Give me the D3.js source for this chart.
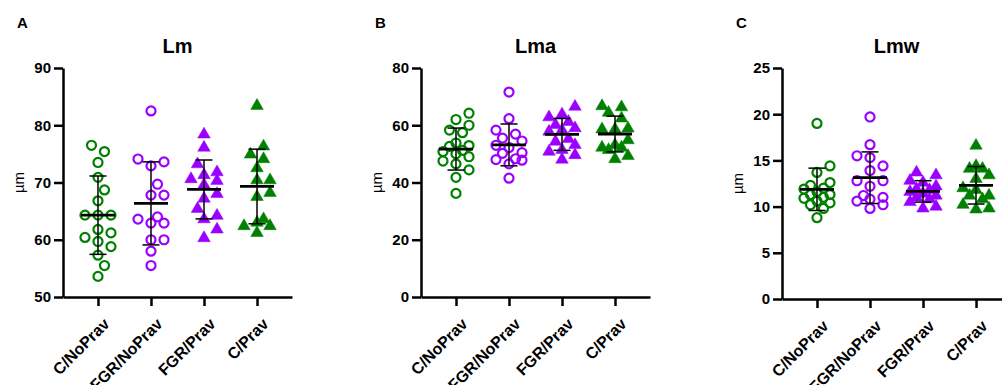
<!DOCTYPE html>
<html>
<head>
<meta charset="utf-8">
<script src="https://cdn.jsdelivr.net/npm/d3@7"></script>
<style>
  body { margin: 0; background: #fff; }
  svg { display: block; font-family: Arial, "Liberation Sans", sans-serif; }
</style>
</head>
<body>
<svg id="chart"></svg>
<script>
const W = 1002, H = 385;

// groups on the x axis
const groups = ["C/NoPrav", "FGR/NoPrav", "FGR/Prav", "C/Prav"];

// Lm (µm)
const lmCNoPrav = [76.5, 75.4, 73.5, 70.9, 68.7, 66.8, 64.3, 64.3, 64.3, 61.8, 61.2, 60.4, 59.7, 58.8, 57.3, 55.5, 53.6];
const lmFgrNoPrav = [82.5, 74.1, 73.6, 72.9, 69.7, 67.8, 67.8, 64.0, 63.6, 62.9, 62.9, 60.0, 60.0, 58.0, 55.5];
const lmFgrPrav = [78.4, 76.1, 73.2, 71.8, 71.3, 70.6, 70.3, 69.6, 68.0, 67.2, 65.4, 64.2, 63.6, 61.8, 60.3];
const lmCPrav = [83.4, 76.3, 74.9, 74.1, 72.5, 70.4, 70.4, 68.2, 67.5, 63.6, 63.0, 62.4, 62.4, 61.2];

// Lma (µm)
const lmaCNoPrav = [64.2, 62.0, 60.0, 58.3, 57.4, 53.8, 52.9, 52.6, 51.2, 50.8, 50.0, 49.0, 47.5, 46.5, 44.4, 41.8, 36.2];
const lmaFgrNoPrav = [71.6, 62.3, 58.3, 56.9, 55.5, 54.5, 53.0, 52.2, 50.4, 50.2, 48.3, 48.0, 47.8, 46.5, 41.5];
const lmaFgrPrav = [66.5, 63.8, 62.8, 61.2, 60.1, 59.0, 58.3, 57.8, 55.2, 54.3, 53.1, 51.4, 50.8, 49.6, 48.0];
const lmaCPrav = [66.7, 66.3, 64.4, 62.4, 58.9, 58.6, 58.6, 54.8, 53.1, 52.2, 52.2, 51.4, 49.3, 48.2];

// Lmw (µm)
const lmwCNoPrav = [19.0, 14.4, 13.7, 12.6, 12.3, 12.0, 11.9, 11.6, 11.3, 11.3, 11.0, 10.9, 10.6, 10.4, 10.2, 9.8, 8.8];
const lmwFgrNoPrav = [19.7, 16.7, 15.5, 15.3, 14.4, 13.9, 12.8, 12.8, 12.2, 11.2, 11.0, 10.8, 10.6, 10.2, 9.8];
const lmwFgrPrav = [13.7, 13.4, 12.8, 12.6, 12.2, 11.9, 11.8, 11.6, 11.4, 11.2, 11.0, 10.8, 10.5, 10.0, 9.8];
const lmwCPrav = [16.6, 14.4, 14.1, 14.1, 13.4, 13.0, 12.0, 11.8, 11.2, 11.2, 10.8, 10.2, 9.8, 9.7];

// y ticks
const lmTicks = [50, 60, 70, 80, 90];
const lmaTicks = [0, 20, 40, 60, 80];
const lmwTicks = [0, 5, 10, 15, 20, 25];

const GREEN = "#008000", PURPLE = "#9b00ff";
const marks = [
    { open: true, color: GREEN },
    { open: true, color: PURPLE },
    { open: false, color: PURPLE },
    { open: false, color: GREEN }
];

const panels = [
    { label: "A", title: "Lm", left: 63, bottom: 297, ticks: lmTicks,
      data: [lmCNoPrav, lmFgrNoPrav, lmFgrPrav, lmCPrav] },
    { label: "B", title: "Lma", left: 421, bottom: 297, ticks: lmaTicks,
      data: [lmaCNoPrav, lmaFgrNoPrav, lmaFgrPrav, lmaCPrav] },
    { label: "C", title: "Lmw", left: 782, bottom: 299, ticks: lmwTicks,
      data: [lmwCNoPrav, lmwFgrNoPrav, lmwFgrPrav, lmwCPrav] }
];

const svg = d3.select("#chart").attr("width", W).attr("height", H);

const TOP = 68, AXW = 229;

// column scatter: ascending values, slots 0, +s, -s, +2s, -2s; when all
// slots are taken the least crowded one is used (points may overlap)
function swarm(vals, y, step, dist) {
    const order = d3.range(vals.length).sort((a, b) => vals[a] - vals[b]);
    const slots = [0, step, -step, 2 * step, -2 * step];
    const placed = [], offs = [];
    for (const i of order) {
        const py = y(vals[i]);
        let best = 0, bestD = -1;
        for (const dx of slots) {
            const d = placed.length ? d3.min(placed, q => Math.hypot(q.x - dx, q.y - py)) : Infinity;
            if (d >= dist) { best = dx; bestD = d; break; }
            if (d > bestD) { best = dx; bestD = d; }
        }
        offs[i] = best;
        placed.push({ x: best, y: py });
    }
    return offs;
}

panels.forEach(p => {
    const g = svg.append("g");
    const y = d3.scaleLinear()
        .domain(d3.extent(p.ticks))
        .range([p.bottom, TOP]);
    const x = d3.scalePoint()
        .domain(groups)
        .range([p.left, p.left + AXW])
        .padding(0.66);

    // panel letter + title
    g.append("text")
        .attr("x", p.left - 46)
        .attr("y", 28)
        .attr("font-size", 15)
        .attr("font-weight", "bold")
        .text(p.label);
    g.append("text")
        .attr("x", p.left + AXW / 2)
        .attr("y", 53)
        .attr("text-anchor", "middle")
        .attr("font-size", 20)
        .attr("font-weight", "bold")
        .text(p.title);

    // y axis
    const ya = g.append("g")
        .attr("transform", `translate(${p.left},0)`)
        .call(d3.axisLeft(y).tickValues(p.ticks).tickSize(9).tickSizeOuter(0).tickPadding(3));
    ya.select(".domain").attr("stroke-width", 2.5);
    ya.selectAll(".tick line").attr("stroke-width", 2.5);
    ya.selectAll(".tick text")
        .attr("font-size", 15)
        .attr("font-weight", "bold")
        .attr("font-family", "Arial, 'Liberation Sans', sans-serif")
        .attr("fill", "#000");

    g.append("text")
        .attr("transform", `translate(${p.left - 39},${(TOP + p.bottom) / 2}) rotate(-90)`)
        .attr("text-anchor", "middle")
        .attr("font-size", 15)
        .text("µm");

    // x axis
    const xa = g.append("g")
        .attr("transform", `translate(0,${p.bottom})`)
        .call(d3.axisBottom(x).tickSize(9).tickSizeOuter(0));
    xa.select(".domain").attr("stroke-width", 2.5);
    xa.selectAll(".tick line").attr("stroke-width", 2.5);
    xa.selectAll(".tick text")
        .attr("x", 0).attr("y", 0).attr("dy", 0)
        .attr("transform", "translate(12,28) rotate(-45)")
        .attr("text-anchor", "end")
        .attr("font-size", 16)
        .attr("font-weight", "bold")
        .attr("font-family", "Arial, 'Liberation Sans', sans-serif")
        .attr("fill", "#000");

    // points
    p.data.forEach((vals, gi) => {
        const m = marks[gi];
        const offs = swarm(vals, y, 6.5, 11);
        const sym = d3.symbol()
            .type(m.open ? d3.symbolCircle : d3.symbolTriangle)
            .size(m.open ? 64 : 68);
        g.append("g").selectAll("path")
            .data(vals.map((v, i) => ({ v, dx: offs[i] })))
            .join("path")
            .attr("d", sym)
            .attr("transform", d => `translate(${x(groups[gi]) + d.dx},${y(d.v)})`)
            .attr("fill", m.open ? "none" : m.color)
            .attr("stroke", m.color)
            .attr("stroke-width", m.open ? 2.2 : 0.5);
    });

    // mean ± SD
    p.data.forEach((vals, gi) => {
        const cx = x(groups[gi]);
        const mean = d3.mean(vals), sd = d3.deviation(vals);
        const eb = g.append("g").attr("stroke", "#000");
        eb.append("line")
            .attr("x1", cx).attr("x2", cx)
            .attr("y1", y(mean - sd)).attr("y2", y(mean + sd))
            .attr("stroke-width", 1.5);
        [mean - sd, mean + sd].forEach(v => {
            eb.append("line")
                .attr("x1", cx - 8.5).attr("x2", cx + 8.5)
                .attr("y1", y(v)).attr("y2", y(v))
                .attr("stroke-width", 1.5);
        });
        eb.append("line")
            .attr("x1", cx - 17).attr("x2", cx + 17)
            .attr("y1", y(mean)).attr("y2", y(mean))
            .attr("stroke-width", 2.8);
    });
});
</script>
</body>
</html>
